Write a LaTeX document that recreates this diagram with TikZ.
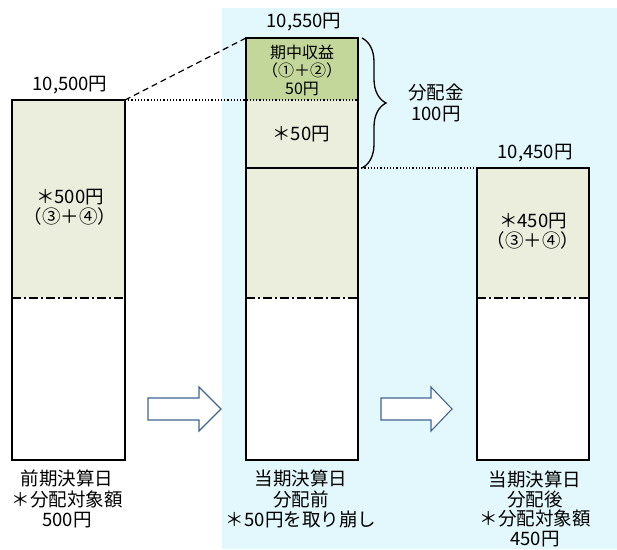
\documentclass[tikz,border=0pt]{standalone}
\usepackage{fontspec}
\setmainfont{Noto Sans CJK JP}
\usetikzlibrary{decorations.pathreplacing}
\definecolor{bgcyan}{HTML}{E3F8FC}
\definecolor{lightgreen}{HTML}{EBEEDD}
\definecolor{darkgreen}{HTML}{C4D79B}
\definecolor{arrowblue}{HTML}{3F6592}
\tikzset{
  barline/.style={draw=black, line width=1.3pt},
  dashdotline/.style={line width=1.6pt, dash pattern=on 9pt off 3pt on 2pt off 3pt},
  lbl/.style={font=\fontsize{18.5}{20.5}\selectfont, align=center, inner sep=0pt},
  smalllbl/.style={font=\fontsize{16}{18}\selectfont, align=center, inner sep=0pt},
  blockarrow/.style={draw=arrowblue, line width=1.1pt, fill=white, line join=miter},
}
\begin{document}
\begin{tikzpicture}[x=1pt,y=-1pt]
\useasboundingbox (0,0) rectangle (617,549);
% background
\fill[bgcyan] (222,8) rectangle (617,549);

% coordinates
\coordinate (Ltop) at (125,100);
\coordinate (Mtl) at (246,38);
\coordinate (Mml) at (246,100);
\coordinate (Mbr) at (358,168);
\coordinate (Rtl) at (477,168);

% left bar
\fill[lightgreen] (12,100) rectangle (125,298);
\fill[white] (12,298) rectangle (125,460);
\draw[dashdotline] (12,298) -- (125,298);
\node[barline, minimum width=113pt, minimum height=360pt, inner sep=0pt] (L) at (68.5,280) {};

% middle bar
\fill[darkgreen] (246,38) rectangle (358,100);
\fill[lightgreen] (246,100) rectangle (358,298);
\fill[white] (246,298) rectangle (358,460);
\draw[dashdotline] (246,298) -- (358,298);
\draw[line width=1.3pt] (246,168) -- (358,168);
\node[barline, minimum width=112pt, minimum height=422pt, inner sep=0pt] (M) at (302,249) {};

% right bar
\fill[lightgreen] (477,168) rectangle (589,298);
\fill[white] (477,298) rectangle (589,460);
\draw[dashdotline] (477,298) -- (589,298);
\node[barline, minimum width=112pt, minimum height=292pt, inner sep=0pt] (R) at (533,314) {};

% connectors
\draw[line width=1.2pt, dash pattern=on 6pt off 4pt] (Ltop) -- (Mtl);
\draw[line width=1.2pt, dotted] (Ltop) -- (Mml) -- (358,100);
\draw[line width=1.2pt, dotted] (Mbr) -- (Rtl);

% brace
\draw[line width=1.3pt, decorate, decoration={brace, amplitude=24pt, aspect=0.5}] (362,38) -- (362,168);

% top labels
\node[lbl] (tL) at (70,85) {10,500円};
\node[lbl] (tM) at (304,22) {10,550円};
\node[lbl] (tR) at (535,153) {10,450円};

% inside labels
\node[smalllbl] (g1) at (302,70) {期中収益\\（①＋②）\\50円};
\node[lbl] (g2) at (301,134) {＊50円};
\node[lbl] (iL) at (70,207) {＊500円\\（③＋④）};
\node[lbl] (iR) at (533,231) {＊450円\\（③＋④）};
\node[lbl] (dist) at (436,103) {分配金\\100円};

% block arrows
\draw[blockarrow] (148,398) -- (199,398) -- (199,387) -- (221,409) -- (199,431) -- (199,420) -- (148,420) -- cycle;
\draw[blockarrow] (381,398) -- (431,398) -- (431,387) -- (452,409) -- (431,431) -- (431,420) -- (381,420) -- cycle;

% bottom labels
\node[lbl] (bL) at (67,499) {前期決算日\\＊分配対象額\\500円};
\node[lbl] (bM) at (301,499) {当期決算日\\分配前\\＊50円を取り崩し};
\node[lbl, font=\fontsize{18.5}{19.5}\selectfont] (bR) at (535,509) {当期決算日\\分配後\\＊分配対象額\\450円};
\end{tikzpicture}
\end{document}
